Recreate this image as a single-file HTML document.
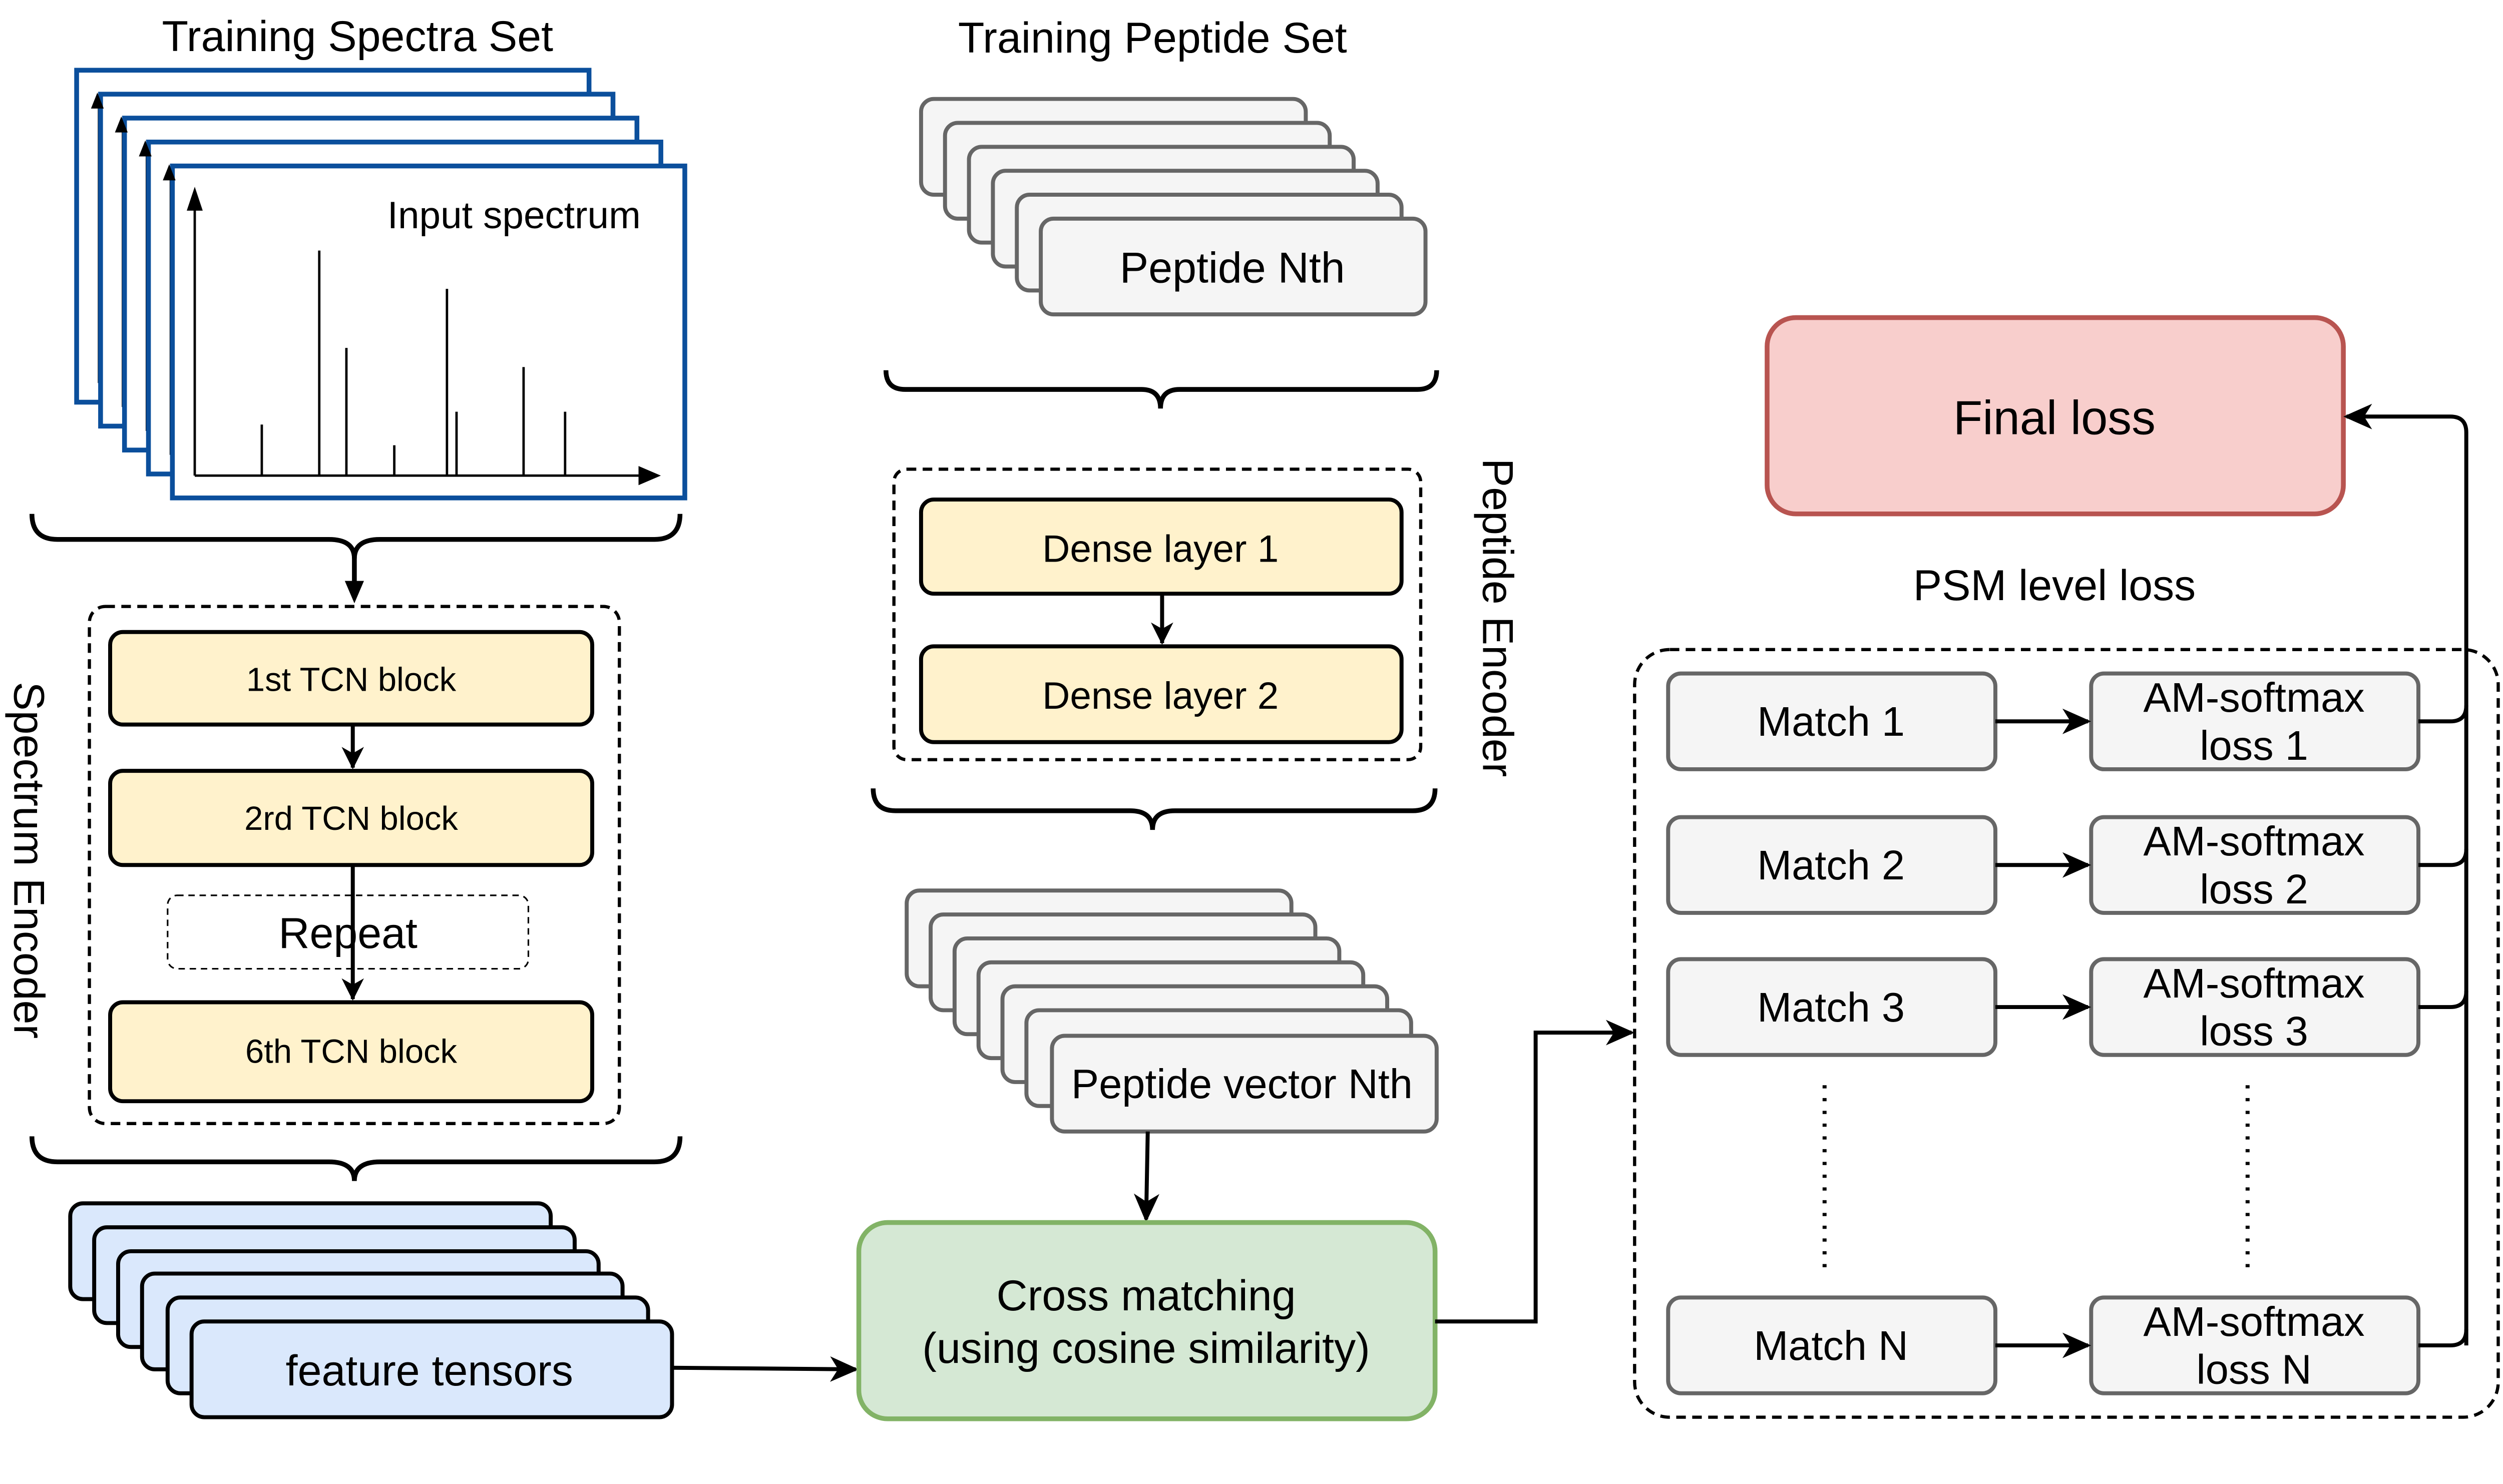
<!DOCTYPE html>
<html><head><style>
html,body{margin:0;padding:0;background:#fff;overflow:hidden;}
svg{display:block;position:fixed;left:0;top:0;width:100vw;height:56.95vw;}
text{font-family:"Liberation Sans",sans-serif;fill:#000;}
</style></head><body>
<svg viewBox="0 0 1568 893" preserveAspectRatio="none" xmlns="http://www.w3.org/2000/svg">
<defs>
<marker id="ah2" markerWidth="18" markerHeight="16" refX="16" refY="8" orient="auto" markerUnits="userSpaceOnUse"><path d="M0,0 L18,8 L0,16 L5,8 Z" fill="#000"/></marker>
<marker id="ah3" markerWidth="14" markerHeight="14" refX="13" refY="7" orient="auto" markerUnits="userSpaceOnUse"><path d="M0,0 L14,7 L0,14 L4,7 Z" fill="#000"/></marker>
</defs>
<rect width="1568" height="893" fill="#fff"/>

<text x="224" y="32" font-size="27" text-anchor="middle">Training Spectra Set</text>
<g fill="#fff" stroke="#0b4f9c" stroke-width="3">
<rect x="48" y="44" width="321" height="208"/>
<line x1="62" y1="62" x2="62" y2="240" stroke="#000" stroke-width="1.5"/>
<rect x="63" y="59" width="321" height="208"/>
<line x1="77" y1="77" x2="77" y2="255" stroke="#000" stroke-width="1.5"/>
<rect x="78" y="74" width="321" height="208"/>
<line x1="92" y1="92" x2="92" y2="270" stroke="#000" stroke-width="1.5"/>
<rect x="93" y="89" width="321" height="208"/>
<line x1="107" y1="107" x2="107" y2="285" stroke="#000" stroke-width="1.5"/>
<rect x="108" y="104" width="321" height="208"/>
</g>
<path d="M61,58 L57,68 L65,68Z M76,73 L72,83 L80,83Z M91,88 L87,98 L95,98Z M106,103 L102,113 L110,113Z" fill="#000"/>
<g stroke="#000" stroke-width="1.5">
<line x1="122" y1="298" x2="122" y2="128"/>
<line x1="122" y1="298" x2="402" y2="298"/>
<line x1="164" y1="298" x2="164" y2="266"/>
<line x1="200" y1="298" x2="200" y2="157"/>
<line x1="217" y1="298" x2="217" y2="218"/>
<line x1="247" y1="298" x2="247" y2="279"/>
<line x1="280" y1="298" x2="280" y2="181"/>
<line x1="286" y1="298" x2="286" y2="258"/>
<line x1="328" y1="298" x2="328" y2="230"/>
<line x1="354" y1="298" x2="354" y2="258"/>
</g>
<path d="M122,117 L117,132 L127,132Z M414,298 L400,292 L400,304Z" fill="#000"/>
<text x="322" y="143" font-size="24" text-anchor="middle">Input spectrum</text>

<g fill="none" stroke="#000" stroke-width="3">
<path d="M20,322 Q20,338 36,338 L206,338 Q222,338 222,350 Q222,338 238,338 L410,338 Q426,338 426,322"/>
<line x1="222" y1="348" x2="222" y2="368"/>
</g>
<path d="M222,378 L216,364 L228,364Z" fill="#000"/>

<rect x="56" y="380" width="332" height="324" rx="10" fill="none" stroke="#000" stroke-width="2" stroke-dasharray="6,4"/>
<g fill="#fff2cc" stroke="#000" stroke-width="2.5">
<rect x="69" y="396" width="302" height="58" rx="8"/>
<rect x="69" y="483" width="302" height="59" rx="8"/>
<rect x="69" y="628" width="302" height="62" rx="8"/>
</g>
<rect x="105" y="561" width="226" height="46" rx="6" fill="#fff" stroke="#000" stroke-width="1" stroke-dasharray="4,3"/>
<text x="220" y="433" font-size="21" text-anchor="middle">1st TCN block</text>
<text x="220" y="520" font-size="21" text-anchor="middle">2rd TCN block</text>
<text x="218" y="594" font-size="27" text-anchor="middle">Repeat</text>
<text x="220" y="666" font-size="21" text-anchor="middle">6th TCN block</text>
<g stroke="#000" stroke-width="2.5">
<line x1="221" y1="454" x2="221" y2="481" marker-end="url(#ah3)"/>
<line x1="221" y1="542" x2="221" y2="626" marker-end="url(#ah3)"/>
</g>
<text transform="translate(9,539) rotate(90)" font-size="27" text-anchor="middle">Spectrum Encoder</text>

<path d="M20,712 Q20,728 36,728 L206,728 Q222,728 222,740 Q222,728 238,728 L410,728 Q426,728 426,712" fill="none" stroke="#000" stroke-width="3"/>

<g fill="#dae8fc" stroke="#000" stroke-width="2.5">
<rect x="44" y="754" width="301" height="60" rx="8"/>
<rect x="59" y="769" width="301" height="60" rx="8"/>
<rect x="74" y="784" width="301" height="60" rx="8"/>
<rect x="89" y="798" width="301" height="60" rx="8"/>
<rect x="105" y="813" width="301" height="60" rx="8"/>
<rect x="120" y="828" width="301" height="60" rx="8"/>
</g>
<text x="269" y="868" font-size="27" text-anchor="middle">feature tensors</text>
<line x1="421" y1="857" x2="536" y2="858" stroke="#000" stroke-width="2.5" marker-end="url(#ah2)"/>

<text x="722" y="33" font-size="27" text-anchor="middle">Training Peptide Set</text>
<g fill="#f5f5f5" stroke="#666" stroke-width="2.5">
<rect x="577" y="62" width="241" height="60" rx="8"/>
<rect x="592" y="77" width="241" height="60" rx="8"/>
<rect x="607" y="92" width="241" height="60" rx="8"/>
<rect x="622" y="107" width="241" height="60" rx="8"/>
<rect x="637" y="122" width="241" height="60" rx="8"/>
<rect x="652" y="137" width="241" height="60" rx="8"/>
</g>
<text x="772" y="177" font-size="27" text-anchor="middle" fill="#333">Peptide Nth</text>
<path d="M555,232 Q555,244 567,244 L715,244 Q727,244 727,256 Q727,244 739,244 L888,244 Q900,244 900,232" fill="none" stroke="#000" stroke-width="3"/>

<rect x="560" y="294" width="330" height="182" rx="8" fill="none" stroke="#000" stroke-width="2" stroke-dasharray="6,4"/>
<g fill="#fff2cc" stroke="#000" stroke-width="2.5">
<rect x="577" y="313" width="301" height="59" rx="8"/>
<rect x="577" y="405" width="301" height="60" rx="8"/>
</g>
<text x="727" y="352" font-size="24" text-anchor="middle">Dense layer 1</text>
<text x="727" y="444" font-size="24" text-anchor="middle">Dense layer 2</text>
<line x1="728" y1="372" x2="728" y2="403" stroke="#000" stroke-width="2.5" marker-end="url(#ah3)"/>
<text transform="translate(929,387) rotate(90)" font-size="27" text-anchor="middle">Peptide Encoder</text>

<path d="M547,494 Q547,508 561,508 L708,508 Q722,508 722,520 Q722,508 736,508 L885,508 Q899,508 899,494" fill="none" stroke="#000" stroke-width="3"/>

<g fill="#f5f5f5" stroke="#666" stroke-width="2.5">
<rect x="568" y="558" width="241" height="60" rx="8"/>
<rect x="583" y="573" width="241" height="60" rx="8"/>
<rect x="598" y="588" width="241" height="60" rx="8"/>
<rect x="613" y="603" width="241" height="60" rx="8"/>
<rect x="628" y="618" width="241" height="60" rx="8"/>
<rect x="643" y="633" width="241" height="60" rx="8"/>
<rect x="659" y="649" width="241" height="60" rx="8"/>
</g>
<text x="778" y="688" font-size="26" text-anchor="middle" fill="#333">Peptide vector Nth</text>
<line x1="719" y1="709" x2="718" y2="764" stroke="#000" stroke-width="2.5" marker-end="url(#ah2)"/>

<rect x="538" y="766" width="361" height="123" rx="18" fill="#d5e8d4" stroke="#82b366" stroke-width="3"/>
<text x="718" y="821" font-size="27" text-anchor="middle">Cross matching</text>
<text x="718" y="854" font-size="27" text-anchor="middle">(using cosine similarity)</text>
<polyline points="899,828 962,828 962,647 1022,647" fill="none" stroke="#000" stroke-width="2.5" marker-end="url(#ah2)"/>

<rect x="1107" y="199" width="361" height="123" rx="18" fill="#f8cecc" stroke="#b85450" stroke-width="3"/>
<text x="1287" y="272" font-size="30" text-anchor="middle">Final loss</text>
<text x="1287" y="376" font-size="27" text-anchor="middle">PSM level loss</text>

<rect x="1024" y="407" width="541" height="481" rx="22" fill="none" stroke="#000" stroke-width="2" stroke-dasharray="6,4"/>
<g fill="#f5f5f5" stroke="#666" stroke-width="2.5">
<rect x="1045" y="422" width="205" height="60" rx="8"/>
<rect x="1045" y="512" width="205" height="60" rx="8"/>
<rect x="1045" y="601" width="205" height="60" rx="8"/>
<rect x="1045" y="813" width="205" height="60" rx="8"/>
<rect x="1310" y="422" width="205" height="60" rx="8"/>
<rect x="1310" y="512" width="205" height="60" rx="8"/>
<rect x="1310" y="601" width="205" height="60" rx="8"/>
<rect x="1310" y="813" width="205" height="60" rx="8"/>
</g>
<g font-size="26" text-anchor="middle">
<text x="1147" y="461" fill="#333">Match 1</text>
<text x="1147" y="551" fill="#333">Match 2</text>
<text x="1147" y="640" fill="#333">Match 3</text>
<text x="1147" y="852" fill="#333">Match N</text>
<text x="1412" y="446" fill="#333">AM-softmax</text><text x="1412" y="476" fill="#333">loss 1</text>
<text x="1412" y="536" fill="#333">AM-softmax</text><text x="1412" y="566" fill="#333">loss 2</text>
<text x="1412" y="625" fill="#333">AM-softmax</text><text x="1412" y="655" fill="#333">loss 3</text>
<text x="1412" y="837" fill="#333">AM-softmax</text><text x="1412" y="867" fill="#333">loss N</text>
</g>
<g stroke="#000" stroke-width="2.5">
<line x1="1250" y1="452" x2="1308" y2="452" marker-end="url(#ah2)"/>
<line x1="1250" y1="542" x2="1308" y2="542" marker-end="url(#ah2)"/>
<line x1="1250" y1="631" x2="1308" y2="631" marker-end="url(#ah2)"/>
<line x1="1250" y1="843" x2="1308" y2="843" marker-end="url(#ah2)"/>
</g>
<g stroke="#000" stroke-width="2.5" stroke-dasharray="2,6">
<line x1="1143" y1="680" x2="1143" y2="795"/>
<line x1="1408" y1="680" x2="1408" y2="795"/>
</g>
<g fill="none" stroke="#000" stroke-width="2.5">
<path d="M1515,452 L1535,452 Q1545,452 1545,442"/>
<path d="M1515,542 L1535,542 Q1545,542 1545,532"/>
<path d="M1515,631 L1535,631 Q1545,631 1545,621"/>
<path d="M1515,843 L1535,843 Q1545,843 1545,833"/>
<path d="M1545,843 L1545,271 Q1545,261 1535,261 L1470,261" marker-end="url(#ah2)"/>
</g>
</svg>
</body></html>
